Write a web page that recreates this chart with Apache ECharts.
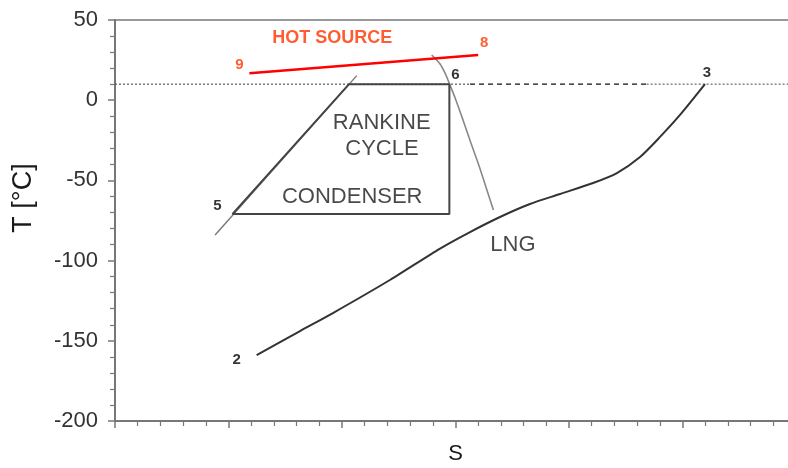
<!DOCTYPE html>
<html>
<head>
<meta charset="utf-8">
<script src="https://cdn.jsdelivr.net/npm/echarts@6/dist/echarts.min.js"></script>
<style>
  html, body { margin: 0; padding: 0; background: #fff; }
  #chart { width: 788px; height: 468px; }
</style>
</head>
<body>
<div id="chart"></div>
<script>
// T–S diagram: LNG regasification coupled with a Rankine cycle
const tempRange = { min: -200, max: 50, step: 50 };
const entropyRange = { min: 0, max: 30, step: 5 };

// saturation dome of the working fluid
const satLiquid = [[4.41, -84], [10.65, 15.3]];
const satVapor = [
  [13.95, 28.2], [14.32, 22.6], [14.56, 16.3], [14.74, 10.0], [15.02, 0.0],
  [15.33, -12.3], [15.68, -26.7], [16.04, -41.0], [16.34, -54.1], [16.67, -68.5]
];

// Rankine cycle: 5 -> pump/evaporator -> 6 -> expansion -> condenser -> 5
const rankineCycle = [[5.17, -71], [14.73, -71], [14.73, 10], [10.31, 10], [5.17, -71]];

// LNG heating curve from state 2 to state 3
const lngCurve = [
  [6.24, -158.9], [8.15, -143.9], [9.60, -132.7], [12.11, -112.1], [14.32, -92.5],
  [15.64, -82.2], [16.96, -72.8], [18.28, -64.7], [19.60, -58.5], [21.06, -51.6],
  [22.11, -45.4], [23.13, -35.4], [24.01, -22.9], [24.89, -9.2], [25.99, 10.0]
];

// hot source stream, 8 -> 9
const hotSource = [[5.92, 16.8], [16.0, 28.2]];

// evaporation temperature isotherm
const isothermT = 10;
const isothermDotted1 = [[0, isothermT], [15.64, isothermT]];
const isothermDashed = [[15.64, isothermT], [23.42, isothermT]];
const isothermDotted2 = [[23.42, isothermT], [30, isothermT]];

// state point labels
const stateNames = ['9', '8', '6', '3', '5', '2'];

// text notes placed on the diagram
const noteTexts = ['HOT SOURCE', 'RANKINE', 'CYCLE', 'CONDENSER', 'LNG'];
const notePoints = [[9.57, 38.6], [11.75, -14.0], [11.76, -30.6], [10.45, -60.5], [17.53, -90.4]];

const FONT = '"Liberation Sans", Arial, Helvetica, sans-serif';
const chart = echarts.init(document.getElementById('chart'), null, { renderer: 'canvas' });

function lineSeries(data, color, width, type, smooth, z) {
  return {
    type: 'line', data: data, showSymbol: false, symbol: 'none', smooth: smooth || false,
    lineStyle: { color: color, width: width, type: type || 'solid' }, z: z || 2,
    silent: true
  };
}

const stateStyle = [
  { pt: hotSource[0], color: '#ff3300', offset: [-10, -8] },
  { pt: hotSource[1], color: '#ff3300', offset: [6, -12] },
  { pt: rankineCycle[2], color: '#000', offset: [6, -9] },
  { pt: lngCurve[lngCurve.length - 1], color: '#000', offset: [2, -11] },
  { pt: rankineCycle[0], color: '#000', offset: [-15, -8] },
  { pt: lngCurve[0], color: '#000', offset: [-20, 5] }
];

const stateData = stateNames.map((n, i) => ({
  name: n,
  value: stateStyle[i].pt,
  label: { color: stateStyle[i].color, offset: stateStyle[i].offset }
}));

const noteData = noteTexts.map((t, i) => {
  const hot = t === 'HOT SOURCE';
  return {
    name: t,
    value: notePoints[i],
    label: hot
      ? { color: '#ff3300', fontSize: 18, fontWeight: 'bold' }
      : { color: '#1a1a1a', fontSize: 22, fontWeight: 'normal' }
  };
});

const option = {
  animation: false,
  backgroundColor: '#fff',
  grid: {
    left: 115, right: -8, top: 20, bottom: 47,
    outerBoundsMode: 'none',
    show: true, borderColor: '#999', borderWidth: 2, backgroundColor: 'transparent'
  },
  xAxis: {
    type: 'value', min: entropyRange.min, max: entropyRange.max, interval: entropyRange.step,
    name: 'S', nameLocation: 'middle', nameGap: 22,
    nameTextStyle: { fontFamily: FONT, fontSize: 22, color: '#1a1a1a' },
    axisLine: { show: true, onZero: false, lineStyle: { color: '#777', width: 2 } },
    axisTick: { show: true, length: 7, lineStyle: { color: '#777', width: 1.5 } },
    minorTick: { show: true, splitNumber: 5, length: 5, lineStyle: { color: '#777', width: 1.2 } },
    axisLabel: { show: false },
    splitLine: { show: false }
  },
  yAxis: {
    type: 'value', min: tempRange.min, max: tempRange.max, interval: tempRange.step,
    name: 'T [°C]', nameLocation: 'middle', nameRotate: 90, nameGap: 78,
    nameTextStyle: { fontFamily: FONT, fontSize: 27, color: '#1a1a1a', padding: [0, 0, 0, 45] },
    axisLine: { show: true, onZero: false, lineStyle: { color: '#777', width: 2 } },
    axisTick: { show: true, length: 7, lineStyle: { color: '#777', width: 1.5 } },
    minorTick: { show: true, splitNumber: 5, length: 5, lineStyle: { color: '#777', width: 1.2 } },
    axisLabel: { fontFamily: FONT, fontSize: 22, color: '#333', margin: 17 },
    splitLine: { show: false }
  },
  series: [
    lineSeries(isothermDotted1, '#555', 1.2, [2, 2], false, 1),
    lineSeries(isothermDashed, '#111', 1.2, [5, 4], false, 1),
    lineSeries(isothermDotted2, '#666', 1.2, [2, 2], false, 1),
    lineSeries(satLiquid, '#777', 1.4, 'solid', false, 2),
    lineSeries(satVapor, '#888', 1.6, 'solid', 0.3, 2),
    lineSeries(rankineCycle, '#444', 2, 'solid', false, 3),
    lineSeries(lngCurve, '#333', 2, 'solid', 0.25, 3),
    lineSeries(hotSource, '#ff0000', 2.5, 'solid', false, 4),
    {
      type: 'scatter', data: stateData, symbolSize: 0, z: 5, silent: true,
      label: {
        show: true, position: 'inside', formatter: '{b}',
        fontFamily: FONT, fontSize: 15, fontWeight: 'bold', align: 'center', verticalAlign: 'middle'
      }
    },
    {
      type: 'scatter', data: noteData, symbolSize: 0, z: 5, silent: true,
      label: {
        show: true, position: 'inside', formatter: '{b}',
        fontFamily: FONT, align: 'center', verticalAlign: 'middle'
      }
    }
  ]
};

chart.setOption(option);
</script>
</body>
</html>
